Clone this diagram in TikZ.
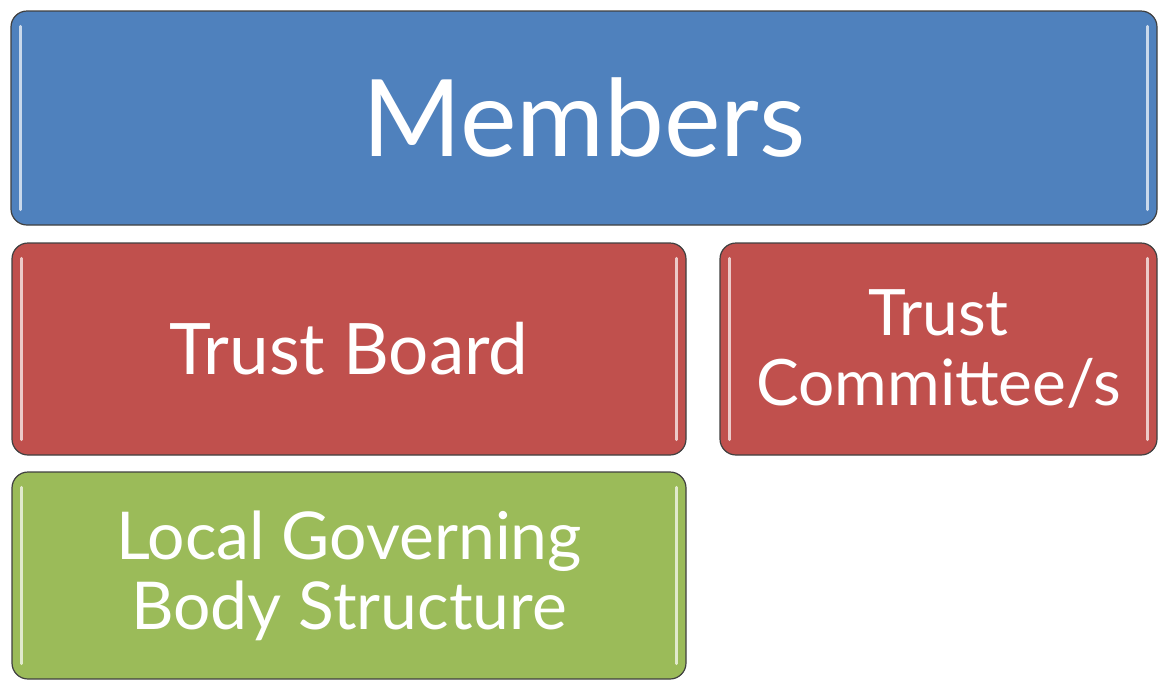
\documentclass[tikz,border=0pt]{standalone}
\usepackage{fontspec}
\setmainfont{Lato}
\usetikzlibrary{calc}
\definecolor{boxblue}{HTML}{4F81BD}
\definecolor{boxred}{HTML}{C0504D}
\definecolor{boxgreen}{HTML}{9BBB59}
\newcommand{\gloss}[1]{%
  \draw[glint] ($(#1.north west)+(10,16)$) -- ($(#1.south west)+(10,-16)$);
  \draw[glint] ($(#1.north east)+(-10,16)$) -- ($(#1.south east)+(-10,-16)$);}
\begin{document}
\begin{tikzpicture}[
    box/.style={rectangle,rounded corners=16pt,draw=black!75,line width=1.2pt,
      text=white,align=center,inner sep=0pt},
    glint/.style={white,opacity=.7,line width=3pt,line cap=round},
    x=1pt,y=-1pt
    ]
    \useasboundingbox (0,0) rectangle (1158,681);
    \node[box,fill=boxblue,minimum width=1146pt,minimum height=214pt,
      font=\fontsize{107}{107}\selectfont](members) at (584,118){Members};
    \node[box,fill=boxred,minimum width=674pt,minimum height=212pt,
      font=\fontsize{71}{71}\selectfont](board) at (349,349){Trust Board};
    \node[box,fill=boxred,minimum width=437pt,minimum height=212pt,
      font=\fontsize{64}{70}\selectfont](committee) at (938.5,349){Trust\\Committee/s};
    \node[box,fill=boxgreen,minimum width=674pt,minimum height=207pt,
      font=\fontsize{66}{70}\selectfont](lgb) at (349,575.5){Local Governing\\Body Structure};
    \gloss{members}
    \gloss{board}
    \gloss{committee}
    \gloss{lgb}
\end{tikzpicture}
\end{document}
